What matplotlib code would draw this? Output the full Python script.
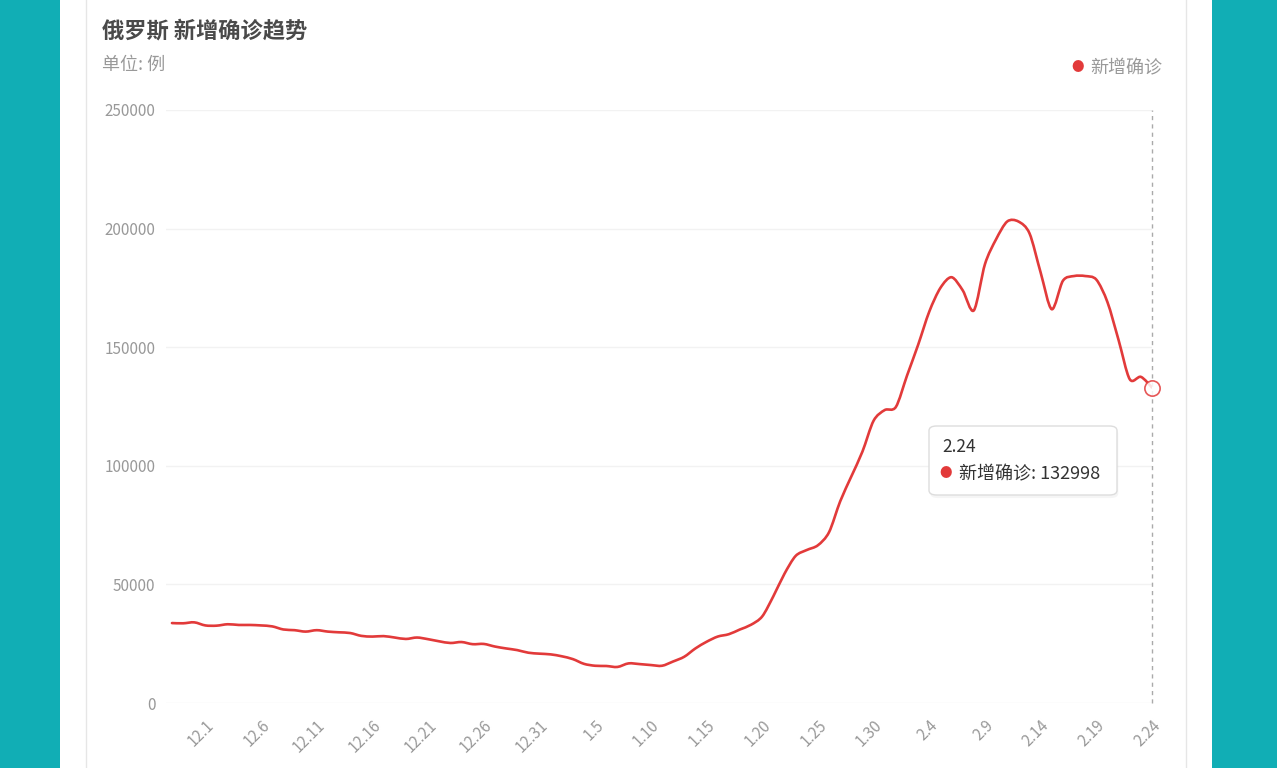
import matplotlib.pyplot as plt
from matplotlib.patches import FancyBboxPatch, Rectangle, PathPatch
from matplotlib.path import Path
import numpy as np

plt.rcParams['font.family'] = ['Noto Sans CJK SC', 'DejaVu Sans']

# 每日新增确诊 (11.28 - 2.24)
dates = ['11.28', '11.29', '11.30'] + \
        ['12.%d' % d for d in range(1, 32)] + \
        ['1.%d' % d for d in range(1, 32)] + \
        ['2.%d' % d for d in range(1, 25)]

new_cases = [
    33700, 33600, 34000, 32700, 32600, 33200, 32900, 32900, 32700, 32300,
    31000, 30700, 30100, 30700, 30100, 29800, 29500, 28300, 28000, 28200,
    27600, 27000, 27600, 26900, 26000, 25300, 25700, 24800, 24900, 23800,
    23000, 22300, 21200, 20800, 20500, 19700, 18500, 16500, 15700, 15600,
    15200, 16700, 16400, 16000, 15700, 17500, 19500, 23000, 25800, 28000,
    29000, 31000, 33000, 36500, 45000, 54500, 62000, 64500, 66500, 72000,
    85000, 95500, 106000, 119000, 123500, 124800, 138000, 151000, 165000, 175000,
    179500, 174000, 165500, 185000, 195500, 203000, 203000, 198000, 181500, 166000,
    178000, 180000, 180000, 178500, 169000, 153000, 136500, 137500, 132998,
]

y_ticks = [0, 50000, 100000, 150000, 200000, 250000]

red = '#e23a3a'
grey = '#999999'
teal = '#11aeb5'


def smooth_path(xs, ys, k=0.3):
    # curva bezier que pasa por todos los puntos (como smooth de echarts)
    xs = np.asarray(xs, float)
    ys = np.asarray(ys, float)
    n = len(xs)
    verts = [(xs[0], ys[0])]
    codes = [Path.MOVETO]
    for i in range(n - 1):
        p0 = max(i - 1, 0)
        p3 = min(i + 2, n - 1)
        c1 = (xs[i] + (xs[i + 1] - xs[p0]) * k / 2, ys[i] + (ys[i + 1] - ys[p0]) * k / 2)
        c2 = (xs[i + 1] - (xs[p3] - xs[i]) * k / 2, ys[i + 1] - (ys[p3] - ys[i]) * k / 2)
        verts += [c1, c2, (xs[i + 1], ys[i + 1])]
        codes += [Path.CURVE4] * 3
    return Path(verts, codes)


W, H = 1277, 768
fig = plt.figure(figsize=(W / 100, H / 100), dpi=100)
fig.patch.set_facecolor('white')

# fondo: bandas verdes y tarjeta
fig.patches.append(Rectangle((0, 0), 60 / W, 1, transform=fig.transFigure,
                             facecolor=teal, edgecolor='none', zorder=0))
fig.patches.append(Rectangle((1212 / W, 0), 1 - 1212 / W, 1, transform=fig.transFigure,
                             facecolor=teal, edgecolor='none', zorder=0))
fig.lines.append(plt.Line2D([85.5 / W, 85.5 / W], [0, 1], transform=fig.transFigure,
                            color='#e6e6e6', lw=1))
fig.lines.append(plt.Line2D([1185.5 / W, 1185.5 / W], [0, 1], transform=fig.transFigure,
                            color='#e6e6e6', lw=1))

x = np.arange(len(dates))
left, right = 166.4, 1152
bottom, top = 703, 110
ax = fig.add_axes([left / W, 1 - bottom / H, (right - left) / W, (bottom - top) / H])
ax.set_facecolor('none')

ax.add_patch(PathPatch(smooth_path(x, new_cases), facecolor='none', edgecolor=red,
                       lw=1.9, joinstyle='round', capstyle='round', zorder=3))

ax.set_xlim(-0.5, len(dates) - 1)
ax.set_ylim(0, 250000)
ax.set_yticks(y_ticks)
ax.set_yticklabels([str(v) for v in y_ticks])
ax.grid(axis='y', color='#f2f2f2', lw=1)
ax.set_axisbelow(True)

tick_idx = list(range(3, len(dates), 5))
ax.set_xticks(tick_idx)
ax.set_xticklabels([dates[i] for i in tick_idx], rotation=45, ha='right',
                   rotation_mode='anchor')
ax.tick_params(axis='x', length=0, pad=10, labelsize=11, labelcolor=grey)
ax.tick_params(axis='y', length=0, pad=8, labelsize=11, labelcolor=grey)
for s in ax.spines.values():
    s.set_visible(False)

# línea vertical del tooltip y marcador final
last = len(dates) - 1
ax.plot([last, last], [0, 250000], color='#aaaaaa', lw=1, ls=(0, (3, 3)),
        zorder=2, clip_on=False)
ax.plot([last], [new_cases[-1]], 'o', ms=11, mfc='white', mec=red, mew=1.2,
        zorder=4, clip_on=False, alpha=0.85)

# títulos
fig.text(102 / W, 1 - 31 / H, '俄罗斯 新增确诊趋势', fontsize=16, fontweight='bold',
         color='#4a4a4a', va='center', ha='left')
fig.text(102 / W, 1 - 65 / H, '单位: 例', fontsize=13, color=grey,
         va='center', ha='left')

# leyenda
fig.text(1078 / W, 1 - 68 / H, '●', fontsize=9, color=red, va='center', ha='center')
fig.text(1090 / W, 1 - 68 / H, '新增确诊', fontsize=13, color=grey,
         va='center', ha='left')

# tooltip
tx0, ty0, tx1, ty1 = 929, 426, 1117, 495
fig.patches.append(FancyBboxPatch((tx0 / W + 0.001, 1 - ty1 / H - 0.004),
                                  (tx1 - tx0) / W, (ty1 - ty0) / H,
                                  boxstyle='round,pad=0,rounding_size=0.006',
                                  transform=fig.transFigure, facecolor='#000000',
                                  alpha=0.04, edgecolor='none', zorder=5))
fig.patches.append(FancyBboxPatch((tx0 / W, 1 - ty1 / H), (tx1 - tx0) / W, (ty1 - ty0) / H,
                                  boxstyle='round,pad=0,rounding_size=0.006',
                                  transform=fig.transFigure, facecolor='white',
                                  edgecolor='#dddddd', lw=1, zorder=6))
fig.text(942 / W, 1 - 447 / H, dates[last], fontsize=12.5, color='#333333',
         va='center', ha='left', zorder=7)
fig.text(946 / W, 1 - 474 / H, '●', fontsize=9, color=red, va='center',
         ha='center', zorder=7)
fig.text(959 / W, 1 - 474 / H, '新增确诊: %d' % new_cases[-1], fontsize=13,
         color='#333333', va='center', ha='left', zorder=7)

fig.savefig('out.png', dpi=100)
